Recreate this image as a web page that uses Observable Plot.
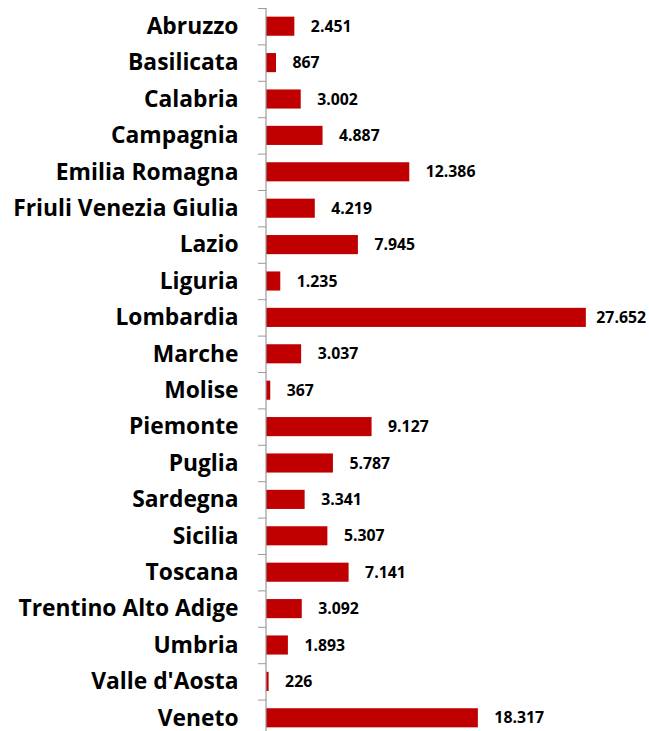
<!DOCTYPE html>
<html>
<head>
<meta charset="utf-8">
<script src="https://cdn.jsdelivr.net/npm/d3@7"></script>
<script src="https://cdn.jsdelivr.net/npm/@observablehq/plot@0.6"></script>
<style>
  html, body { margin: 0; padding: 0; background: #fff; overflow: hidden; }
  #chart svg { display: block; }
</style>
</head>
<body>
<div id="chart"></div>
<script>
const regions = ["Abruzzo","Basilicata","Calabria","Campagnia","Emilia Romagna","Friuli Venezia Giulia","Lazio","Liguria","Lombardia","Marche","Molise","Piemonte","Puglia","Sardegna","Sicilia","Toscana","Trentino Alto Adige","Umbria","Valle d'Aosta","Veneto"];
const values = [2451,867,3002,4887,12386,4219,7945,1235,27652,3037,367,9127,5787,3341,5307,7141,3092,1893,226,18317];

const data = regions.map((r, i) => ({region: r, value: values[i]}));
const it = d3.formatLocale({decimal: ",", thousands: ".", grouping: [3], currency: ["€", ""]});
const fmt = it.format(",d");

const W = 649, H = 731, mTop = 8, mBottom = -5;
const step = (H - mTop - mBottom) / regions.length;
const pad = 0.475;
const font = "'Open Sans', sans-serif";

const chart = Plot.plot({
  width: W,
  height: H,
  marginLeft: 266,
  marginRight: 36,
  marginTop: mTop,
  marginBottom: mBottom,
  style: {fontFamily: font, background: "#fff", overflow: "hidden"},
  x: {domain: [0, 30000], axis: null},
  y: {domain: regions, paddingInner: pad, paddingOuter: pad / 2, round: false, label: null},
  marks: [
    Plot.barX(data, {y: "region", x: "value", fill: "#C00000"}),
    Plot.ruleX([0], {stroke: "#9a9a9a", strokeWidth: 1.2, dx: -0.5}),
    Plot.axisY({anchor: "left", tickSize: 8, text: null, stroke: "#9a9a9a", dy: -step / 2, tickPadding: 0}),
    Plot.axisY({anchor: "left", tickSize: 0, tickPadding: 28, fontSize: 22.8, fontWeight: 700, fill: "#000", label: null}),
    Plot.text(data.filter(d => d.value < 25000), {y: "region", x: "value", text: d => fmt(d.value), textAnchor: "start", dx: 16, fontSize: 15.8, fontWeight: 700, fill: "#000"}),
    Plot.text(data.filter(d => d.value >= 25000), {y: "region", x: "value", text: d => fmt(d.value), textAnchor: "start", dx: 10, fontSize: 15.8, fontWeight: 700, fill: "#000"})
  ]
});
document.getElementById("chart").appendChild(chart);
</script>
</body>
</html>
